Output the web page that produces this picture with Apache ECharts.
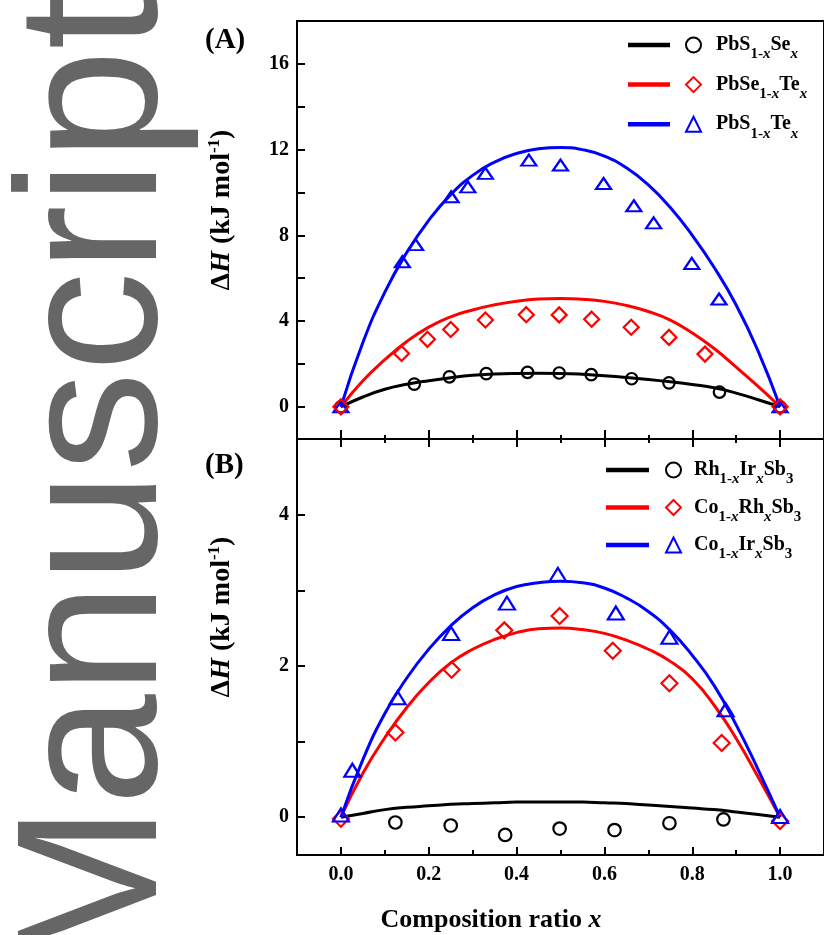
<!DOCTYPE html>
<html>
<head>
<meta charset="utf-8">
<script src="https://cdn.jsdelivr.net/npm/echarts@6/dist/echarts.min.js"></script>
<style>
  html, body { margin: 0; padding: 0; background: #fff; }
  #chart { width: 824px; height: 935px; }
</style>
</head>
<body>
<div id="chart"></div>
<script>
// ---- Panel (A): lead chalcogenide alloys ----
const aCircX = [0, 0.167, 0.247, 0.331, 0.425, 0.497, 0.570, 0.662, 0.747, 0.862, 1.0];
const aCircY = [0, 1.06, 1.40, 1.55, 1.61, 1.58, 1.50, 1.31, 1.12, 0.69, 0];
const aDiamX = [0, 0.138, 0.197, 0.250, 0.329, 0.422, 0.497, 0.571, 0.661, 0.747, 0.829, 1.0];
const aDiamY = [0, 2.49, 3.15, 3.61, 4.05, 4.30, 4.29, 4.09, 3.71, 3.24, 2.46, 0];
const aTriX = [0, 0.140, 0.170, 0.251, 0.289, 0.329, 0.428, 0.500, 0.598, 0.667, 0.712, 0.799, 0.861, 1.0];
const aTriY = [0, 6.77, 7.57, 9.80, 10.26, 10.89, 11.51, 11.28, 10.42, 9.38, 8.58, 6.69, 5.03, 0];

// composition grid of the fitted curves (both panels)
const fitX = [0, 0.05, 0.1, 0.15, 0.2, 0.25, 0.3, 0.35, 0.4, 0.45, 0.5,
              0.55, 0.6, 0.65, 0.7, 0.75, 0.8, 0.85, 0.9, 0.95, 1.0];
const aFitBlack = [0, 0.46, 0.82, 1.05, 1.22, 1.36, 1.47, 1.53, 1.56, 1.57, 1.56,
                   1.52, 1.45, 1.37, 1.28, 1.17, 1.04, 0.89, 0.64, 0.33, 0];
const aFitRed   = [0, 1.22, 2.20, 3.05, 3.72, 4.20, 4.52, 4.76, 4.93, 5.03, 5.06,
                   5.02, 4.92, 4.73, 4.45, 4.05, 3.45, 2.72, 1.85, 0.95, 0];
const aFitBlue  = [0, 3.00, 5.35, 7.20, 8.70, 9.90, 10.80, 11.42, 11.82, 12.04, 12.10,
                   12.00, 11.70, 11.15, 10.35, 9.30, 8.00, 6.50, 4.75, 2.60, 0];

// ---- Panel (B): skutterudite alloys ----
const bCircX = [0.124, 0.250, 0.374, 0.498, 0.623, 0.748, 0.871];
const bCircY = [-0.07, -0.11, -0.235, -0.15, -0.17, -0.08, -0.03];
const bDiamX = [0, 0.124, 0.252, 0.372, 0.498, 0.619, 0.748, 0.867, 1.0];
const bDiamY = [-0.02, 1.12, 1.95, 2.47, 2.66, 2.20, 1.77, 0.98, -0.05];
const bTriX = [0, 0.026, 0.129, 0.251, 0.378, 0.494, 0.626, 0.748, 0.876, 1.0];
const bTriY = [0.03, 0.62, 1.58, 2.43, 2.83, 3.21, 2.70, 2.38, 1.42, 0.01];

const bFitBlack = [0, 0.05, 0.10, 0.13, 0.15, 0.17, 0.18, 0.19, 0.20, 0.20, 0.20,
                   0.20, 0.19, 0.18, 0.16, 0.14, 0.12, 0.10, 0.07, 0.035, 0];
const bFitRed   = [0, 0.58, 1.05, 1.45, 1.78, 2.04, 2.22, 2.35, 2.44, 2.49, 2.50,
                   2.48, 2.43, 2.34, 2.22, 2.06, 1.83, 1.48, 1.04, 0.53, 0];
const bFitBlue  = [0, 0.76, 1.37, 1.84, 2.22, 2.53, 2.77, 2.94, 3.05, 3.10, 3.12,
                   3.10, 3.03, 2.90, 2.72, 2.47, 2.14, 1.74, 1.22, 0.63, 0];

// axis tick positions
const xMajor = [0, 0.2, 0.4, 0.6, 0.8, 1.0];
const xMinor = [0.1, 0.3, 0.5, 0.7, 0.9];
const aYLabels = [0, 4, 8, 12, 16];
const aYTicks = [0, 2, 4, 6, 8, 10, 12, 14, 16];
const bYLabels = [0, 2, 4];
const bYTicks = [0, 1, 2, 3, 4];

// series names (legend entries)
const namesA = ['PbS1-xSex', 'PbSe1-xTex', 'PbS1-xTex'];
const namesB = ['Rh1-xIrxSb3', 'Co1-xRhxSb3', 'Co1-xIrxSb3'];
const legendText = {
  'PbS1-xSex':   '{g| }{n|PbS}{s|1-}{si|x}{n|Se}{si|x}',
  'PbSe1-xTex':  '{g| }{n|PbSe}{s|1-}{si|x}{n|Te}{si|x}',
  'PbS1-xTex':   '{g| }{n|PbS}{s|1-}{si|x}{n|Te}{si|x}',
  'Rh1-xIrxSb3': '{h| }{n|Rh}{s|1-}{si|x}{n|Ir}{si|x}{n|Sb}{s|3}',
  'Co1-xRhxSb3': '{h| }{n|Co}{s|1-}{si|x}{n|Rh}{si|x}{n|Sb}{s|3}',
  'Co1-xIrxSb3': '{h| }{n|Co}{s|1-}{si|x}{n|Ir}{si|x}{n|Sb}{s|3}'
};

const SERIF = '"Liberation Serif", "Times New Roman", serif';
const BLACK = '#000000', RED = '#ff0000', BLUE = '#0000ff';

const pairs = (xs, ys) => xs.map((x, i) => [x, ys[i]]);

function fitSeries(name, ys, color, gi) {
  return {
    name: name, type: 'line', xAxisIndex: gi === 0 ? 0 : 2, yAxisIndex: gi,
    data: pairs(fitX, ys), smooth: 0.5, symbol: 'none',
    lineStyle: { color: color, width: 3 }, itemStyle: { color: color },
    z: 2, silent: true
  };
}
function markSeries(name, xs, ys, color, symbol, size, gi) {
  return {
    name: name, type: 'scatter', xAxisIndex: gi === 0 ? 0 : 2, yAxisIndex: gi,
    data: pairs(xs, ys), symbol: symbol, symbolSize: size,
    itemStyle: { color: 'rgba(0,0,0,0)', borderColor: color, borderWidth: 2.2, opacity: 1 },
    z: 3, silent: true
  };
}

const tickStyle = { color: '#000', width: 2 };
function xAx(gi, pos, ticks, len, labels) {
  return {
    gridIndex: gi, type: 'value', min: -0.1, max: 1.1, position: pos,
    axisLine: { show: false, onZero: false }, splitLine: { show: false },
    axisTick: { show: true, inside: true, length: len, lineStyle: tickStyle, customValues: ticks },
    axisLabel: labels ? {
      show: true, customValues: xMajor, margin: 10,
      formatter: v => v.toFixed(1),
      fontFamily: SERIF, fontWeight: 'bold', fontSize: 20, color: '#000'
    } : { show: false }
  };
}
function yAx(gi, min, max, labels, ticks) {
  return {
    gridIndex: gi, type: 'value', min: min, max: max, position: 'left',
    axisLine: { show: false, onZero: false }, splitLine: { show: false },
    axisTick: { show: true, inside: true, length: 8, lineStyle: tickStyle, customValues: ticks },
    axisLabel: {
      show: true, customValues: labels, margin: 8,
      fontFamily: SERIF, fontWeight: 'bold', fontSize: 20, color: '#000'
    }
  };
}

const richLegend = {
  n:  { fontFamily: SERIF, fontWeight: 'bold', fontSize: 20, lineHeight: 24, color: '#000' },
  s:  { fontFamily: SERIF, fontWeight: 'bold', fontSize: 15, lineHeight: 15, padding: [19, 0, 0, 0], color: '#000' },
  si: { fontFamily: SERIF, fontWeight: 'bold', fontStyle: 'italic', fontSize: 15, lineHeight: 15, padding: [19, 0, 0, 0], color: '#000' },
  g:  { width: 10, fontSize: 20, lineHeight: 24 },
  h:  { width: 8, fontSize: 20, lineHeight: 24 }
};

function lineLegend(names, left, top, gap, width) {
  return {
    orient: 'vertical', left: left, top: top, padding: 0, itemGap: gap,
    itemWidth: width, itemHeight: 4.5, icon: 'rect', selectedMode: false,
    data: names.map(n => n + ' fit'),
    formatter: () => ' ',
    textStyle: { fontSize: 20, lineHeight: 34 }
  };
}
function markLegend(names, left, top, gap) {
  return {
    orient: 'vertical', left: left, top: top, padding: 0, itemGap: gap,
    itemWidth: 15, itemHeight: 15, selectedMode: false,
    data: names,
    formatter: n => legendText[n],
    textStyle: { rich: richLegend }
  };
}

// rotated y-axis title (ΔH in kJ/mol)
const yTitleRich = {
  d: { fontFamily: SERIF, fontWeight: 'bold', fontSize: 28, fill: '#000' },
  h: { fontFamily: SERIF, fontWeight: 'bold', fontStyle: 'italic', fontSize: 28, fill: '#000' },
  n: { fontFamily: SERIF, fontWeight: 'bold', fontSize: 28, fill: '#000' },
  p: { fontFamily: SERIF, fontWeight: 'bold', fontSize: 17, lineHeight: 17, padding: [0, 0, 15, 0], fill: '#000' }
};
const yTitle = '{d|Δ}{h|H}{n| (kJ mol}{p|-1}{n|)}';

const chart = echarts.init(document.getElementById('chart'), null, { renderer: 'canvas' });
chart.setOption({
  animation: false,
  backgroundColor: '#fff',
  grid: [
    { left: 297, top: 21, width: 532, height: 418, show: true, borderColor: '#000', borderWidth: 2, backgroundColor: 'transparent' },
    { left: 297, top: 439, width: 532, height: 416, show: true, borderColor: '#000', borderWidth: 2, backgroundColor: 'transparent' }
  ],
  xAxis: [
    xAx(0, 'bottom', xMajor, 9, false),
    xAx(0, 'bottom', xMinor, 4, false),
    xAx(1, 'bottom', xMajor, 8, true),
    xAx(1, 'bottom', xMinor, 5, false),
    xAx(1, 'top', xMajor, 8, false),
    xAx(1, 'top', xMinor, 4, false)
  ],
  yAxis: [
    yAx(0, -1.5, 18, aYLabels, aYTicks),
    yAx(1, -0.5, 5, bYLabels, bYTicks)
  ],
  legend: [
    lineLegend(namesA, 628, 28, 5.6, 42),
    markLegend(namesA, 685, 28, 5.6),
    lineLegend(namesB, 606, 453, 3.5, 43),
    markLegend(namesB, 665, 453, 3.5)
  ],
  series: [
    fitSeries(namesA[0] + ' fit', aFitBlack, BLACK, 0),
    fitSeries(namesA[1] + ' fit', aFitRed, RED, 0),
    fitSeries(namesA[2] + ' fit', aFitBlue, BLUE, 0),
    markSeries(namesA[0], aCircX, aCircY, BLACK, 'circle', 11.5, 0),
    markSeries(namesA[2], aTriX, aTriY, BLUE, 'triangle', [15, 11], 0),
    markSeries(namesA[1], aDiamX, aDiamY, RED, 'diamond', 15, 0),

    fitSeries(namesB[0] + ' fit', bFitBlack, BLACK, 1),
    fitSeries(namesB[1] + ' fit', bFitRed, RED, 1),
    fitSeries(namesB[2] + ' fit', bFitBlue, BLUE, 1),
    markSeries(namesB[0], bCircX, bCircY, BLACK, 'circle', 12.5, 1),
    markSeries(namesB[1], bDiamX, bDiamY, RED, 'diamond', 16, 1),
    markSeries(namesB[2], bTriX, bTriY, BLUE, 'triangle', [16, 13], 1)
  ],
  graphic: [
    {
      type: 'text', x: 101, y: 972, rotation: Math.PI / 2, z: 0,
      style: { text: 'Manuscript', font: '200px "Liberation Sans", Arial, sans-serif', fill: '#666666', align: 'left', verticalAlign: 'middle' }
    },
    {
      type: 'text', x: 205, y: 41, z: 10,
      style: { text: '(A)', font: 'bold 29px "Liberation Serif", serif', fill: '#000', align: 'left', verticalAlign: 'middle' }
    },
    {
      type: 'text', x: 205, y: 466, z: 10,
      style: { text: '(B)', font: 'bold 29px "Liberation Serif", serif', fill: '#000', align: 'left', verticalAlign: 'middle' }
    },
    {
      type: 'text', x: 222, y: 210, rotation: Math.PI / 2, z: 10,
      style: { text: yTitle, align: 'center', verticalAlign: 'middle', rich: yTitleRich }
    },
    {
      type: 'text', x: 222, y: 617, rotation: Math.PI / 2, z: 10,
      style: { text: yTitle, align: 'center', verticalAlign: 'middle', rich: yTitleRich }
    },
    {
      type: 'text', x: 491, y: 920, z: 10,
      style: {
        text: '{n|Composition ratio }{i|x}', align: 'center', verticalAlign: 'middle',
        rich: {
          n: { fontFamily: SERIF, fontWeight: 'bold', fontSize: 26, fill: '#000' },
          i: { fontFamily: SERIF, fontWeight: 'bold', fontStyle: 'italic', fontSize: 26, fill: '#000' }
        }
      }
    }
  ]
});
</script>
</body>
</html>
